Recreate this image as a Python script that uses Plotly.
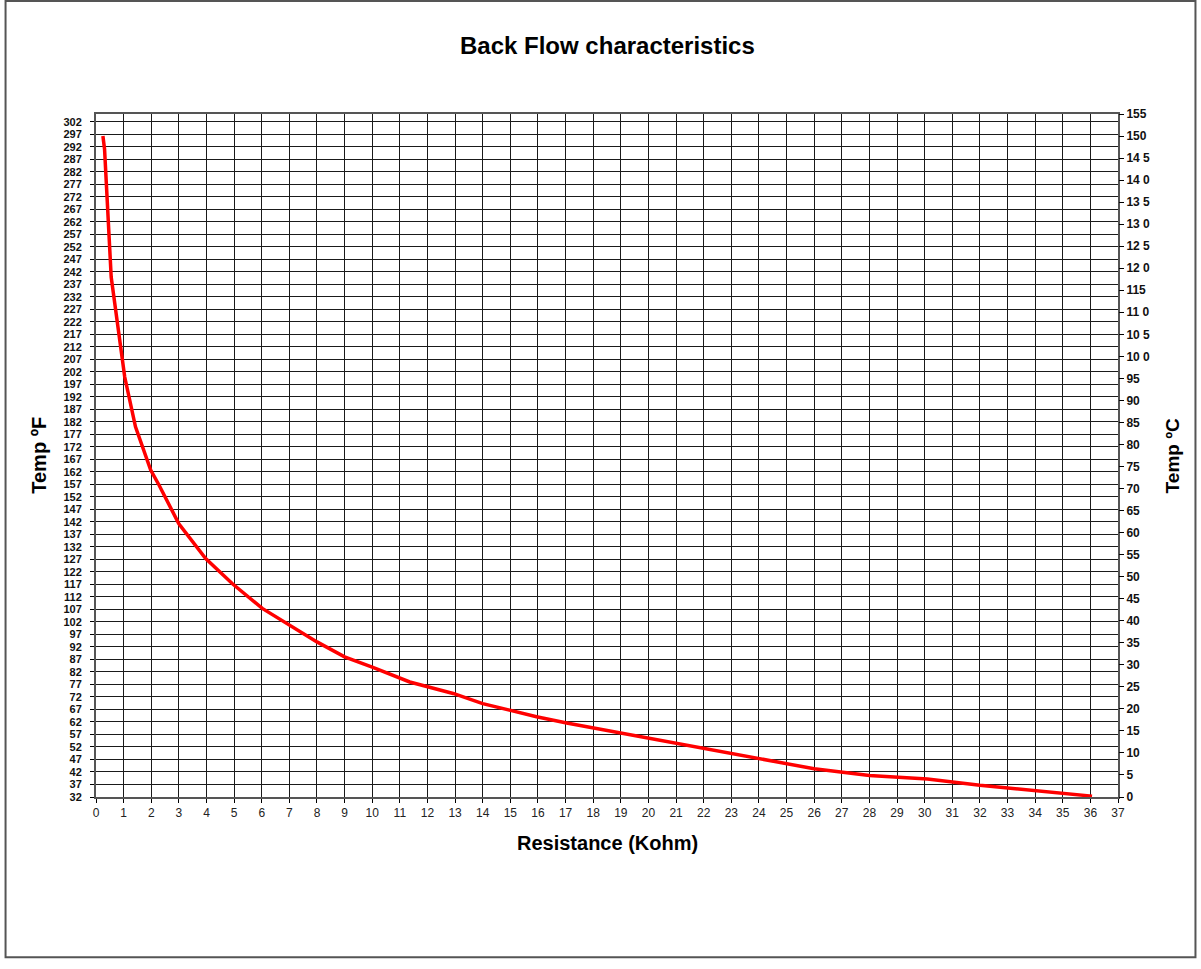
import plotly.graph_objects as go

# resistance (Kohm) vs temperature (C)
resistance = [0.25, 0.31, 0.55, 1.04, 1.43, 1.98, 2.28, 3.0, 3.97, 4.94, 6.02, 7.23,
              8.0, 9.0, 10.0, 11.36, 12.93, 14.0, 15.95, 17.04, 19.09, 21.0, 22.0,
              23.0, 24.0, 26.0, 28.0, 29.4, 30.1, 32.0, 34.1, 36.06]
temp_c = [150, 147, 118, 95.3, 84, 74.2, 70.8, 62, 54.1, 48.4, 42.8, 38.2,
          35.2, 31.8, 29.5, 26.1, 23.5, 21.2, 18.2, 16.8, 14.4, 12.1, 11.0,
          9.85, 8.7, 6.4, 4.9, 4.4, 4.1, 2.65, 1.4, 0.2]

f_ticks = list(range(32, 303, 5))
c_ticks = list(range(0, 156, 5))
c_labels = [str(v) if v < 100 else str(v)[:-1] + ' ' + str(v)[-1] for v in c_ticks]
c_labels[-1] = '155'
c_labels[c_ticks.index(150)] = '150'
c_labels[c_ticks.index(115)] = '115'
x_ticks = list(range(0, 38))

FONT = 'Arial, Liberation Sans, sans-serif'
GRID = '#1a1a1a'

fig = go.Figure()

# invisible trace so the Fahrenheit axis is drawn
fig.add_trace(go.Scatter(x=[0], y=[32], mode='markers', marker=dict(opacity=0),
                         hoverinfo='skip', showlegend=False, yaxis='y'))

fig.add_trace(go.Scatter(x=resistance, y=temp_c, mode='lines', yaxis='y2',
                         line=dict(color='#ff0000', width=3.5), showlegend=False))

fig.update_layout(
    width=1201, height=969,
    margin=dict(l=96, r=83, t=114, b=172),
    paper_bgcolor='white', plot_bgcolor='white',
    font=dict(family=FONT, color='black'),
    xaxis=dict(range=[0, 37], tickvals=x_ticks, showgrid=True, gridcolor=GRID, gridwidth=1,
               zeroline=False, showline=True, linecolor='#555', linewidth=2, mirror=True,
               ticks='outside', ticklen=4, tickcolor='black',
               tickfont=dict(size=12, color='#222')),
    yaxis=dict(range=[32, 305.1], tickvals=f_ticks, showgrid=True, gridcolor=GRID, gridwidth=1,
               zeroline=False, showline=True, linecolor='#555', linewidth=2, mirror=True,
               ticks='outside', ticklen=4, tickcolor='black', ticklabelstandoff=6,
               tickfont=dict(size=11, color='#111', weight='bold')),
    yaxis2=dict(range=[0, 155], tickvals=c_ticks, ticktext=c_labels, overlaying='y', side='right',
                showgrid=False, zeroline=False, ticks='outside', ticklen=5, tickcolor='black',
                tickfont=dict(size=12, color='#111', weight='bold')),
    shapes=[dict(type='rect', xref='paper', yref='paper',
                 x0=-0.0885, x1=1.0758, y0=-0.2348, y1=1.1655,
                 line=dict(color='#555', width=2), layer='below')],
    annotations=[
        dict(text='<b>Back Flow characteristics</b>', xref='paper', yref='paper',
             x=0.5, y=1.1, yanchor='middle', showarrow=False, font=dict(size=24)),
        dict(text='<b>Resistance (Kohm)</b>', xref='paper', yref='paper',
             x=0.5, y=-0.067, yanchor='middle', showarrow=False, font=dict(size=20)),
        dict(text='<b>Temp ºF</b>', xref='paper', yref='paper', textangle=-90,
             x=-0.0565, y=0.5, xanchor='center', yanchor='middle', showarrow=False,
             font=dict(size=20)),
        dict(text='<b>Temp ºC</b>', xref='paper', yref='paper', textangle=-90,
             x=1.0537, y=0.5, xanchor='center', yanchor='middle', showarrow=False,
             font=dict(size=19)),
    ],
)

fig.write_html("out.html", config={'displayModeBar': False},
               post_script="document.body.style.margin='0';")
